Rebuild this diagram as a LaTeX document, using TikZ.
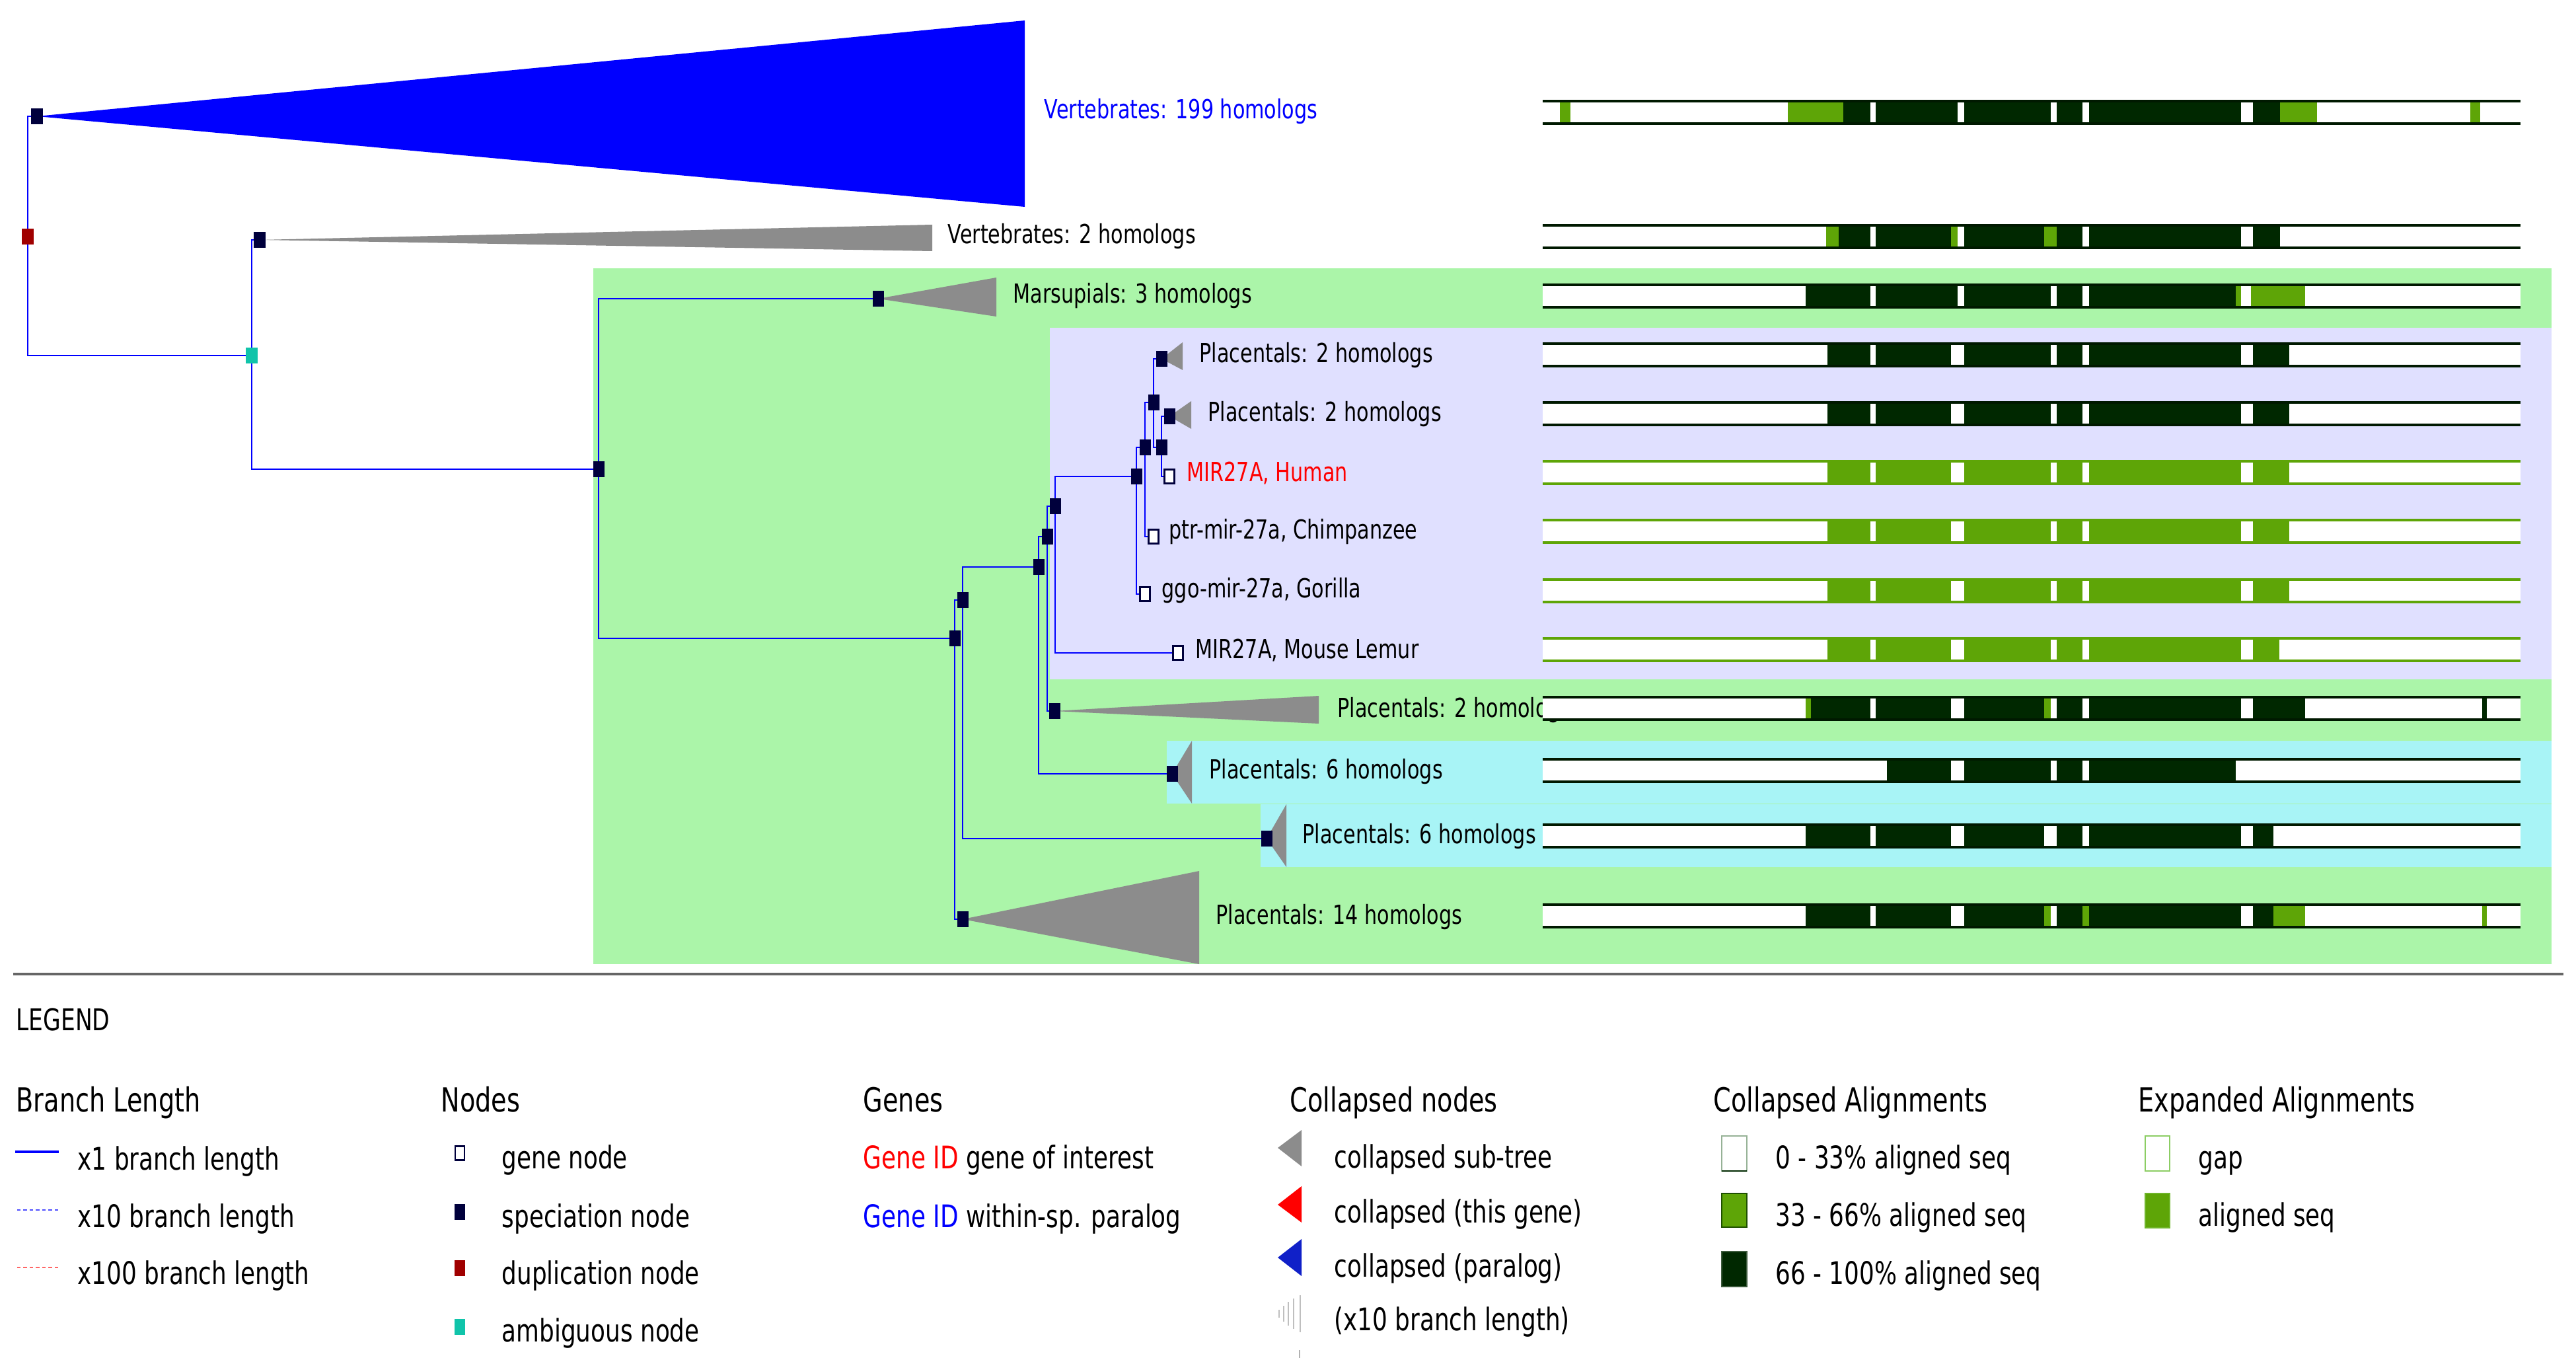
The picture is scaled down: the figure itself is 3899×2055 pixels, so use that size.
\documentclass[tikz,border=0pt]{standalone}
\usepackage{fontspec}
\setmainfont{DejaVu Sans}[FakeStretch=0.76]
\definecolor{gbox}{RGB}{171,245,169}
\definecolor{lbox}{RGB}{224,224,255}
\definecolor{cbox}{RGB}{168,244,246}
\definecolor{dk}{RGB}{0,40,0}
\definecolor{mg}{RGB}{94,165,7}
\definecolor{bd}{RGB}{0,25,0}
\definecolor{navy}{RGB}{0,0,60}
\definecolor{dupred}{RGB}{160,0,0}
\definecolor{teal2}{RGB}{16,196,170}
\definecolor{tri}{RGB}{140,140,140}
\definecolor{pblue}{RGB}{16,32,200}
\definecolor{kb1}{RGB}{150,178,150}
\definecolor{kb2}{RGB}{30,80,0}
\definecolor{kb3}{RGB}{60,90,60}
\definecolor{kb4}{RGB}{140,205,100}
\definecolor{kb5}{RGB}{110,180,40}
\pgfdeclarelayer{boxes}
\pgfdeclarelayer{lines}
\pgfsetlayers{boxes,lines,main}
\newcommand\yc{0}
\newcommand\sg[3]{\fill[#1] (#2,\yc-15) rectangle (#3,\yc+15);}
\newcommand\bbase{\fill[white] (2335,\yc-17) rectangle (3815,\yc+17);}
\newcommand\brd[1]{\draw[#1,line width=1.1pt] (2335,\yc-17) -- (3815,\yc-17) (2335,\yc+17) -- (3815,\yc+17);}
\newcommand\stdgaps{\sg{white}{2831}{2839}\sg{white}{2953}{2973}\sg{white}{3104}{3113}\sg{white}{3152}{3162}\sg{white}{3392}{3410}}
\begin{document}
\begin{tikzpicture}[x=0.01cm,y=-0.01cm,
  tnode/.style={inner sep=0pt,minimum width=0.17cm,minimum height=0.24cm},
  spec/.style={tnode,fill=navy},
  dup/.style={tnode,fill=dupred},
  amb/.style={tnode,fill=teal2},
  gene/.style={inner sep=0pt,minimum width=0.15cm,minimum height=0.21cm,fill=white,draw=navy,line width=0.8pt},
  br/.style={blue,line width=0.6pt},
  lab/.style={anchor=west,inner sep=0pt,font=\fontsize{11.3}{13}\selectfont},
  leg/.style={anchor=base west,inner sep=0pt,font=\fontsize{13.4}{15}\selectfont},
  head/.style={anchor=base west,inner sep=0pt,font=\fontsize{14.3}{16}\selectfont}]
\useasboundingbox (0,0) rectangle (3899,2055);
% background boxes
\begin{pgfonlayer}{boxes}
\fill[gbox] (898,406) rectangle (3862,1459);
\fill[lbox] (1589,496) rectangle (3862,1028);
\fill[cbox] (1766,1121) rectangle (3862,1216);
\fill[cbox] (1908,1217) rectangle (3862,1312);
\end{pgfonlayer}
% tree nodes
\node[dup] (R) at (42,358) {};
\node[spec] (N199) at (56,176) {};
\node[amb] (T) at (381,538) {};
\node[spec] (N2) at (393,363) {};
\node[spec] (J) at (906,710) {};
\node[spec] (Mar) at (1329,452) {};
\node[spec] (H) at (1445,966) {};
\node[spec] (P14) at (1457,1391) {};
\node[spec] (I) at (1457,908) {};
\node[spec] (P6b) at (1917,1269) {};
\node[spec] (G) at (1572,858) {};
\node[spec] (P6a) at (1774,1171) {};
\node[spec] (F) at (1585,812) {};
\node[spec] (P2h) at (1596,1076) {};
\node[spec] (E) at (1597,766) {};
\node[gene] (Lem) at (1783,988) {};
\node[spec] (D) at (1720,721) {};
\node[gene] (Gor) at (1733,899) {};
\node[spec] (C) at (1733,677) {};
\node[gene] (Chi) at (1746,812) {};
\node[spec] (A) at (1746,609) {};
\node[gene] (Hum) at (1770,721) {};
\node[spec] (B) at (1758,677) {};
\node[spec] (P2a) at (1758,543) {};
\node[spec] (P2b) at (1770,630) {};
% branches and collapsed triangles
\begin{pgfonlayer}{lines}
\draw[br] (R.center) |- (N199.center);
\draw[br] (R.center) |- (T.center);
\draw[br] (T.center) |- (N2.center);
\draw[br] (T.center) |- (J.center);
\draw[br] (J.center) |- (Mar.center);
\draw[br] (J.center) |- (H.center);
\draw[br] (H.center) |- (I.center);
\draw[br] (H.center) |- (P14.center);
\draw[br] (I.center) |- (G.center);
\draw[br] (I.center) |- (P6b.center);
\draw[br] (G.center) |- (F.center);
\draw[br] (G.center) |- (P6a.center);
\draw[br] (F.center) |- (E.center);
\draw[br] (F.center) |- (P2h.center);
\draw[br] (E.center) |- (D.center);
\draw[br] (E.center) |- (Lem.center);
\draw[br] (D.center) |- (C.center);
\draw[br] (D.center) |- (Gor.center);
\draw[br] (C.center) |- (A.center);
\draw[br] (C.center) |- (Chi.center);
\draw[br] (A.center) |- (P2a.center);
\draw[br] (A.center) |- (B.center);
\draw[br] (B.center) |- (P2b.center);
\draw[br] (B.center) |- (Hum.center);
\fill[blue] (N199.center) -- (1551,31) -- (1551,313) -- cycle;
\fill[tri] (N2.center) -- (1411,340) -- (1411,380) -- cycle;
\fill[tri] (Mar.center) -- (1508,420) -- (1508,479) -- cycle;
\fill[tri] (P2a.center) -- (1790,518) -- (1790,560) -- cycle;
\fill[tri] (P2b.center) -- (1803,607) -- (1803,649) -- cycle;
\fill[tri] (P2h.center) -- (1996,1053) -- (1996,1095) -- cycle;
\fill[tri] (P6a.center) -- (1804,1121) -- (1804,1216) -- cycle;
\fill[tri] (P6b.center) -- (1947,1217) -- (1947,1312) -- cycle;
\fill[tri] (P14.center) -- (1815,1318) -- (1815,1459) -- cycle;
\end{pgfonlayer}
% labels
\node[lab,text=blue] (t199) at (1580,169) {Vertebrates: 199 homologs};
\node[lab] (t2) at (1434,358) {Vertebrates: 2 homologs};
\node[lab] (tmar) at (1533,448) {Marsupials: 3 homologs};
\node[lab] (tp2a) at (1815,538) {Placentals: 2 homologs};
\node[lab] (tp2b) at (1828,627) {Placentals: 2 homologs};
\node[lab,text=red] (thum) at (1796,716) {MIR27A, Human};
\node[lab] (tchi) at (1769,805) {ptr-mir-27a, Chimpanzee};
\node[lab] (tgor) at (1758,894) {ggo-mir-27a, Gorilla};
\node[lab] (tlem) at (1809,984) {MIR27A, Mouse Lemur};
\node[lab] (tp2h) at (2024,1075) {Placentals: 2 homologs};
\node[lab] (tp6a) at (1830,1168) {Placentals: 6 homologs};
\node[lab] (tp6b) at (1971,1266) {Placentals: 6 homologs};
\node[lab] (tp14) at (1840,1388) {Placentals: 14 homologs};
% alignment bars
\renewcommand\yc{170}\bbase
\sg{mg}{2361}{2377}\sg{mg}{2706}{2790}\sg{dk}{2790}{3451}
\sg{white}{2831}{2839}\sg{white}{2963}{2973}\sg{white}{3104}{3113}\sg{white}{3152}{3162}\sg{white}{3392}{3410}
\sg{mg}{3451}{3507}\sg{mg}{3739}{3754}\brd{bd}
\renewcommand\yc{358}\bbase
\sg{mg}{2764}{2783}\sg{dk}{2783}{3451}\sg{white}{2831}{2839}\sg{mg}{2953}{2963}\sg{white}{2963}{2973}
\sg{mg}{3094}{3113}\sg{white}{3152}{3162}\sg{white}{3392}{3410}\brd{bd}
\renewcommand\yc{448}\bbase
\sg{dk}{2733}{3384}\sg{white}{2831}{2839}\sg{white}{2963}{2973}\sg{white}{3104}{3113}\sg{white}{3152}{3162}
\sg{mg}{3384}{3392}\sg{mg}{3407}{3489}\brd{bd}
\renewcommand\yc{537}\bbase\sg{dk}{2766}{3465}\stdgaps\brd{bd}
\renewcommand\yc{626}\bbase\sg{dk}{2766}{3465}\stdgaps\brd{bd}
\renewcommand\yc{715}\bbase\sg{mg}{2766}{3465}\stdgaps\brd{mg}
\renewcommand\yc{804}\bbase\sg{mg}{2766}{3465}\stdgaps\brd{mg}
\renewcommand\yc{894}\bbase\sg{mg}{2766}{3465}\stdgaps\brd{mg}
\renewcommand\yc{983}\bbase\sg{mg}{2766}{3450}\stdgaps\brd{mg}
\renewcommand\yc{1072}\bbase
\sg{mg}{2733}{2741}\sg{dk}{2741}{3489}\sg{white}{2831}{2839}\sg{white}{2953}{2973}\sg{mg}{3094}{3104}\sg{white}{3104}{3113}
\sg{white}{3152}{3162}\sg{white}{3392}{3410}\sg{dk}{3757}{3764}\brd{bd}
\renewcommand\yc{1166}\bbase
\sg{dk}{2856}{3384}\sg{white}{2953}{2973}\sg{white}{3104}{3113}\sg{white}{3152}{3162}\brd{bd}
\renewcommand\yc{1265}\bbase
\sg{dk}{2733}{3441}\sg{white}{2831}{2839}\sg{white}{2953}{2973}\sg{white}{3094}{3113}\sg{white}{3152}{3162}\sg{white}{3392}{3410}\brd{bd}
\renewcommand\yc{1386}\bbase
\sg{dk}{2733}{3441}\sg{white}{2831}{2839}\sg{white}{2953}{2973}\sg{white}{3104}{3113}\sg{white}{3392}{3410}
\sg{mg}{3094}{3104}\sg{mg}{3152}{3162}\sg{mg}{3441}{3489}\sg{mg}{3757}{3764}\brd{bd}
% separator
\draw[black!60,line width=0.9pt] (20,1474) -- (3880,1474);
% legend
\node[anchor=base west,inner sep=0pt,font=\fontsize{12.9}{15}\selectfont] (legend) at (24,1559) {LEGEND};
\node[head] (hbl) at (24,1682) {Branch Length};
\node[head] (hnd) at (667,1682) {Nodes};
\node[head] (hgn) at (1306,1682) {Genes};
\node[head] (hcn) at (1952,1682) {Collapsed nodes};
\node[head] (hca) at (2593,1682) {Collapsed Alignments};
\node[head] (hea) at (3236,1682) {Expanded Alignments};
% branch length
\draw[blue,line width=1.1pt] (23,1743) -- (89,1743);
\draw[blue!70,line width=0.6pt,dash pattern=on 1.5pt off 1.2pt] (26,1831) -- (89,1831);
\draw[red!60,line width=0.6pt,dash pattern=on 1.5pt off 1.2pt] (26,1918) -- (89,1918);
\node[leg] (l1) at (117,1770) {x1 branch length};
\node[leg] (l10) at (117,1857) {x10 branch length};
\node[leg] (l100) at (117,1943) {x100 branch length};
% nodes legend
\node[gene,minimum width=0.14cm,minimum height=0.21cm] (kg) at (696,1745) {};
\node[spec,minimum width=0.16cm] (ks) at (696,1834) {};
\node[dup,minimum width=0.16cm] (kd) at (696,1919) {};
\node[amb,minimum width=0.16cm] (ka) at (696,2008) {};
\node[leg] (lg) at (759,1768) {gene node};
\node[leg] (ls) at (759,1857) {speciation node};
\node[leg] (ld) at (759,1943) {duplication node};
\node[leg] (la) at (759,2030) {ambiguous node};
% genes legend
\node[leg] (gi) at (1306,1768) {\textcolor{red}{Gene ID} gene of interest};
\node[leg] (gp) at (1306,1857) {\textcolor{blue}{Gene ID} within-sp. paralog};
% collapsed nodes legend
\fill[tri] (1934,1737) -- (1970,1710) -- (1970,1765) -- cycle;
\fill[red] (1934,1823) -- (1970,1795) -- (1970,1850) -- cycle;
\fill[pblue] (1934,1903) -- (1970,1875) -- (1970,1931) -- cycle;
\foreach \xx/\hh in {1936/6,1943/12,1950/18,1958/23,1968/28}
  \draw[black!25,line width=0.6pt] (\xx,1988-\hh) -- (\xx,1988+\hh);
\draw[black!30,line width=0.5pt] (1967,2043) -- (1967,2055);
\node[leg] (c1) at (2019,1767) {collapsed sub-tree};
\node[leg] (c2) at (2019,1850) {collapsed (this gene)};
\node[leg] (c3) at (2019,1932) {collapsed (paralog)};
\node[leg] (c4) at (2019,2013) {(x10 branch length)};
% collapsed alignments legend
\filldraw[fill=white,draw=kb1,line width=0.8pt] (2606,1719) rectangle (2644,1772);
\draw[dk,line width=0.8pt] (2606,1772) -- (2644,1772);
\filldraw[fill=mg,draw=kb2,line width=0.8pt] (2606,1806) rectangle (2644,1857);
\filldraw[fill=dk,draw=kb3,line width=0.8pt] (2606,1894) rectangle (2644,1947);
\node[leg] (a1) at (2687,1768) {0 - 33\% aligned seq};
\node[leg] (a2) at (2687,1855) {33 - 66\% aligned seq};
\node[leg] (a3) at (2687,1943) {66 - 100\% aligned seq};
% expanded alignments legend
\filldraw[fill=white,draw=kb4,line width=0.8pt] (3247,1719) rectangle (3284,1772);
\filldraw[fill=mg,draw=kb5,line width=0.8pt] (3247,1806) rectangle (3284,1858);
\node[leg] (e1) at (3327,1768) {gap};
\node[leg] (e2) at (3327,1855) {aligned seq};
\end{tikzpicture}
\end{document}
